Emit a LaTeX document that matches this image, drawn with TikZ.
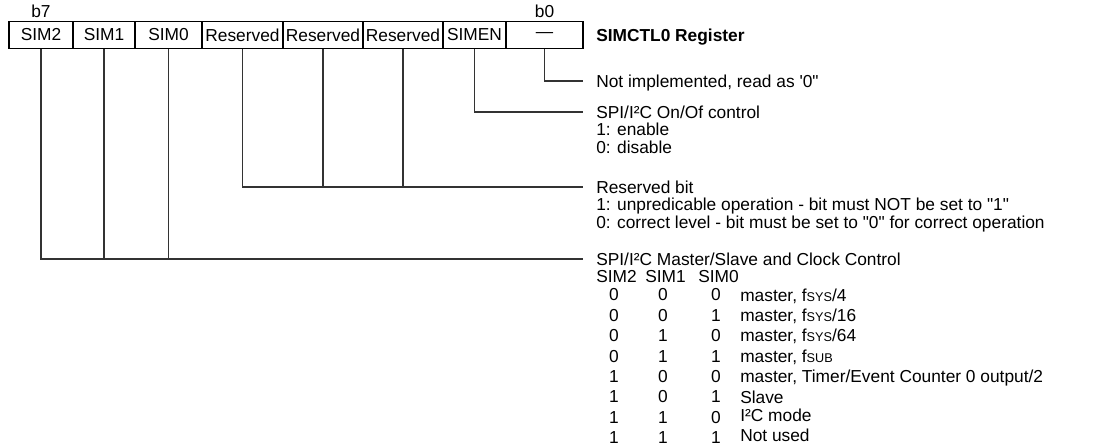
\documentclass[tikz,border=0pt]{standalone}
\usepackage{fontspec}
\setmainfont{Liberation Sans}[Ligatures=TeXOff]
\usetikzlibrary{positioning}

\newcommand{\fclk}[1]{f{\fontsize{9.5}{10}\selectfont #1}}

\begin{document}
\begin{tikzpicture}[x=0.75pt, y=-0.75pt,
    every node/.style={font=\fontsize{13}{15}\selectfont, inner sep=0pt},
    field/.style={draw, line width=0.8pt, minimum height=20.25pt},
    desc/.style={anchor=base west},
    conn/.style={line width=0.8pt, black!80}]
  \useasboundingbox (0,0) rectangle (1094,448);

  % register bits b7..b0
  \foreach \i/\xa/\xb/\t in {7/9/73/SIM2, 6/73/135/SIM1, 5/135/202/SIM0, 4/202/283/Reserved,
      3/283/363/Reserved, 2/363/443/Reserved, 1/443/506/SIMEN, 0/506/583/—} {
    \node[field, minimum width={(\xb-\xa)*0.75pt}] (bit\i) at ({(\xa+\xb)/2},35) {\t};
  }
  \node[above=2.5pt of bit7] (b7) {b7};
  \node[above=2.5pt of bit0] (b0) {b0};
  \node[desc] (title) at (596,41.5) {\bfseries SIMCTL0 Register};

  % end points of the connectors
  \coordinate (c0) at (583,81);
  \coordinate (c1) at (583,112);
  \coordinate (c2) at (583,187);
  \coordinate (c3) at (583,259);

  \draw[conn] (bit0.south) |- (c0);
  \draw[conn] (bit1.south) |- (c1);
  \draw[conn] (bit4.south) |- (c2);
  \draw[conn] (bit3.south) -- (bit3.south |- c2);
  \draw[conn] (bit2.south) -- (bit2.south |- c2);
  \draw[conn] (bit7.south) |- (c3);
  \draw[conn] (bit6.south) -- (bit6.south |- c3);
  \draw[conn] (bit5.south) -- (bit5.south |- c3);

  % descriptions
  \node[desc] (nimp) at (596,87.2) {Not implemented, read as '0"};

  \node[desc] (onoff) at (596,118.2) {SPI/I²C On/Of control};
  \node[desc] (en1) at (596,135.7) {1: enable};
  \node[desc] (en0) at (596,153.2) {0: disable};

  \node[desc] (rsv) at (596,193.2) {Reserved bit};
  \node[desc] (rsv1) at (596,210.7) {1: unpredicable operation - bit must NOT be set to "1"};
  \node[desc] (rsv0) at (596,228.2) {0: correct level - bit must be set to "0" for correct operation};

  \node[desc] (mode) at (596,265.2) {SPI/I²C Master/Slave and Clock Control};
  \foreach \x/\t in {596/SIM2, 645/SIM1, 698/SIM0}
    \node[desc] (h\t) at (\x,282.7) {\t};

  % mode table
  \foreach \a/\b/\c/\dy/\t [count=\r from 0] in {0/0/0/0/{master, \fclk{SYS}/4}, 0/0/1/0/{master, \fclk{SYS}/16},
      0/1/0/0/{master, \fclk{SYS}/64}, 0/1/1/0/{master, \fclk{SUB}},
      1/0/0/0/{master, Timer/Event Counter 0 output/2}, 1/0/1/0/Slave, 1/1/0/-2/I²C mode, 1/1/1/-3/Not used} {
    \node (ra\r) at (614,{295+20.4*\r}) {\a};
    \node (rb\r) at (663,{295+20.4*\r}) {\b};
    \node (rc\r) at (716,{295+20.4*\r}) {\c};
    \node[desc] (rt\r) at (740,{301.2+20.4*\r+\dy}) {\t};
  }
\end{tikzpicture}
\end{document}
